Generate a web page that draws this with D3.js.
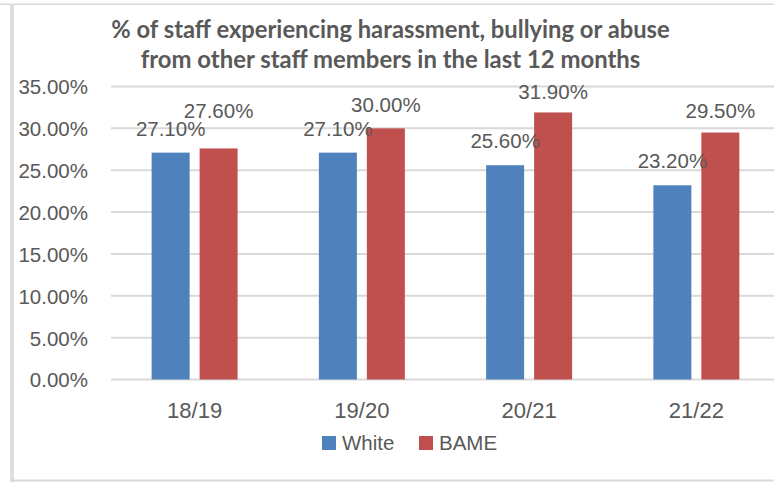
<!DOCTYPE html>
<html>
<head>
<meta charset="utf-8">
<script src="https://cdn.jsdelivr.net/npm/d3@7"></script>
<style>
  html, body { margin: 0; padding: 0; background: #fff; }
  svg { display: block; }
</style>
</head>
<body>
<svg id="chart" width="774" height="483"></svg>
<script>
// Chart data
const categories = ["18/19", "19/20", "20/21", "21/22"];
const seriesNames = ["White", "BAME"];
const whiteValues = [27.1, 27.1, 25.6, 23.2];
const bameValues = [27.6, 30.0, 31.9, 29.5];
const yTicks = [0, 5, 10, 15, 20, 25, 30, 35];
const titleLines = [
  "% of staff experiencing harassment, bullying or abuse",
  "from other staff members in the last 12 months"
];

// Vertical gap (px) between a bar's top and its value label
const labelLift = { White: [17, 17, 17.5, 17], BAME: [30, 16, 13, 15] };

const colors = { White: "#4F81BD", BAME: "#C0504D" };
const textColor = "#595959";
const gridColor = "#d9d9d9";
const font = "'Liberation Sans', Arial, sans-serif";

const rows = categories.map((c, i) => ({
  category: c,
  White: whiteValues[i],
  BAME: bameValues[i]
}));

const svg = d3.select("#chart");

// Frame
svg.append("rect").attr("x", 0).attr("y", 3.5).attr("width", 774).attr("height", 1.5).attr("fill", gridColor);
svg.append("rect").attr("x", 10).attr("y", 4).attr("width", 4).attr("height", 478).attr("fill", "#dedede");
svg.append("rect").attr("x", 12).attr("y", 479.5).attr("width", 762).attr("height", 2).attr("fill", gridColor);

// Scales
const plotLeft = 111, plotRight = 780;
const x0 = d3.scaleBand().domain(categories).range([plotLeft, plotRight])
  .paddingInner(0.486).paddingOuter(0.243);
const x1 = d3.scaleBand().domain(seriesNames).range([0, x0.bandwidth()])
  .paddingInner(0.2083).paddingOuter(0);
const y = d3.scaleLinear().domain([0, 35]).range([379.5, 86.5]);

// Gridlines
svg.append("g").selectAll("line").data(yTicks).join("line")
  .attr("x1", plotLeft).attr("x2", 774)
  .attr("y1", d => y(d)).attr("y2", d => y(d))
  .attr("stroke", gridColor).attr("stroke-width", 2);

// Y axis labels
const yAxis = d3.axisLeft(y).tickValues(yTicks).tickSize(0).tickPadding(0)
  .tickFormat(d => d.toFixed(2) + "%");
const yg = svg.append("g").attr("transform", "translate(88,0)").call(yAxis);
yg.select(".domain").remove();
yg.selectAll("text").attr("font-family", font).attr("font-size", 20.5)
  .attr("fill", textColor).attr("dy", "0.36em");

// Bars
const groups = svg.append("g").selectAll("g").data(rows).join("g")
  .attr("transform", d => `translate(${x0(d.category)},0)`);
groups.selectAll("rect").data(d => seriesNames.map(s => ({ s, v: d[s] }))).join("rect")
  .attr("x", d => x1(d.s)).attr("width", x1.bandwidth())
  .attr("y", d => y(d.v)).attr("height", d => y(0) - y(d.v))
  .attr("fill", d => colors[d.s]);

// Value labels
groups.each(function (d, i) {
  d3.select(this).selectAll("text.val").data(seriesNames.map(s => ({ s, v: d[s], i }))).join("text")
    .attr("class", "val")
    .attr("x", e => x1(e.s) + x1.bandwidth() / 2)
    .attr("y", e => y(e.v) - labelLift[e.s][e.i])
    .attr("text-anchor", "middle")
    .attr("font-family", font).attr("font-size", 20.5).attr("fill", textColor)
    .text(e => e.v.toFixed(2) + "%");
});

// X axis labels
const xAxis = d3.axisBottom(x0).tickSize(0).tickPadding(0);
const xg = svg.append("g").attr("transform", "translate(0,418)").call(xAxis);
xg.select(".domain").remove();
xg.selectAll("text").attr("font-family", font).attr("font-size", 22)
  .attr("fill", textColor).attr("dy", 0);

// Title
const title = svg.append("g");
const titleY = [38, 68];
const titleWidths = [559, 500];
titleLines.forEach((t, i) => {
  const txt = title.append("text")
    .attr("x", 390.5).attr("y", titleY[i]).attr("text-anchor", "middle")
    .attr("font-family", "Lato, 'Open Sans', sans-serif").attr("font-weight", "bold")
    .attr("font-size", 20).attr("fill", textColor).text(t);
  const w = txt.node().getComputedTextLength();
  txt.attr("font-size", 20 * titleWidths[i] / w);
});

// Legend
const legend = svg.append("g");
const legendX = { White: 322, BAME: 419 };
seriesNames.forEach(s => {
  legend.append("rect").attr("x", legendX[s]).attr("y", 436).attr("width", 14).attr("height", 14)
    .attr("fill", colors[s]);
  legend.append("text").attr("x", legendX[s] + 20).attr("y", 450)
    .attr("font-family", font).attr("font-size", 20.5).attr("fill", textColor).text(s);
});
</script>
</body>
</html>
